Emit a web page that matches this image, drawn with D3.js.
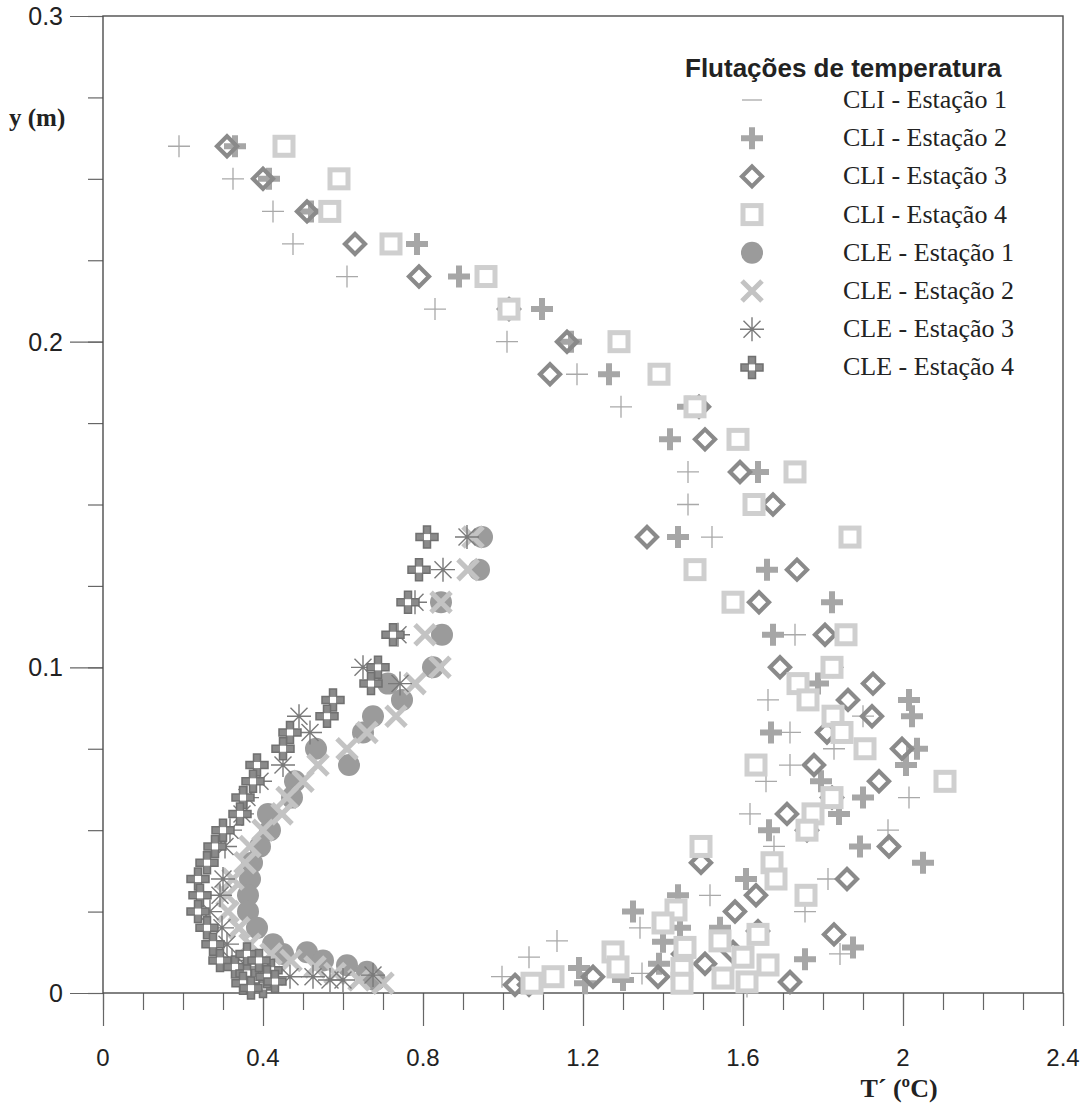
<!DOCTYPE html>
<html><head><meta charset="utf-8">
<script src="https://cdn.jsdelivr.net/npm/d3@7"></script>
<style>body{margin:0;background:#fff}</style>
</head><body>
<svg id="chart" width="1092" height="1107"></svg>
<script>
// Axis ticks and labels
const xTicks = [0, 0.4, 0.8, 1.2, 1.6, 2, 2.4];
const xTickLabels = ["0", "0.4", "0.8", "1.2", "1.6", "2", "2.4"];
const yTicks = [0, 0.1, 0.2, 0.3];
const yTickLabels = ["0", "0.1", "0.2", "0.3"];
const xMinorTicks = [0,0.1,0.2,0.3,0.4,0.5,0.6,0.7,0.8,0.9,1.0,1.1,1.2,1.3,1.4,1.5,1.6,1.7,1.8,1.9,2.0,2.1,2.2,2.3,2.4];
const yMinorTicks = [0,0.025,0.05,0.075,0.1,0.125,0.15,0.175,0.2,0.225,0.25,0.275,0.3];

const legendTitle = "Flutações de temperatura";
const seriesNames = ["CLI - Estação 1","CLI - Estação 2","CLI - Estação 3","CLI - Estação 4",
                     "CLE - Estação 1","CLE - Estação 2","CLE - Estação 3","CLE - Estação 4"];

// [T' (ºC), y (m)] pairs per series
const cli1 = [[0.19,0.26],[0.325,0.25],[0.425,0.24],[0.475,0.23],[0.61,0.22],[0.83,0.21],[1.01,0.2],
  [1.185,0.19],[1.295,0.18],[1.4625,0.16],[1.4625,0.15],[1.5225,0.14],[1.73,0.11],[1.825,0.1],
  [1.6625,0.09],[1.9,0.085],[1.7175,0.08],[1.8275,0.075],[1.7175,0.07],[1.6575,0.065],[2.015,0.06],
  [1.6175,0.055],[1.9625,0.05],[1.6775,0.045],[1.6725,0.04],[1.8125,0.035],[1.5175,0.03],[1.755,0.025],
  [1.3425,0.02],[1.135,0.016],[1.8425,0.012],[1.065,0.011],[1.3475,0.006],[0.9975,0.005],[1.61,0.002]];
const cli2 = [[0.33,0.26],[0.415,0.25],[0.52,0.24],[0.785,0.23],[0.89,0.22],[1.0975,0.21],[1.17,0.2],
  [1.265,0.19],[1.4625,0.18],[1.4175,0.17],[1.6375,0.16],[1.4375,0.14],[1.66,0.13],[1.8225,0.12],
  [1.675,0.11],[1.7875,0.095],[2.015,0.09],[2.0225,0.085],[1.67,0.08],[2.035,0.075],[2.0075,0.07],
  [1.795,0.065],[1.9,0.06],[1.84,0.055],[1.665,0.05],[1.8925,0.045],[2.05,0.04],[1.6075,0.035],
  [1.4375,0.03],[1.325,0.025],[1.4425,0.02],[1.5425,0.02],[1.4,0.0157],[1.875,0.014],[1.755,0.0104],
  [1.39,0.009],[1.19,0.0077],[1.3,0.004],[1.205,0.003]];
const cli3 = [[0.31,0.26],[0.40,0.25],[0.51,0.24],[0.63,0.23],[0.79,0.22],[1.015,0.21],[1.16,0.2],
  [1.1175,0.19],[1.49,0.18],[1.505,0.17],[1.5925,0.16],[1.675,0.15],[1.36,0.14],[1.735,0.13],[1.64,0.12],
  [1.805,0.11],[1.6925,0.1],[1.925,0.095],[1.8625,0.09],[1.9225,0.085],[1.81,0.08],[1.9975,0.075],
  [1.7775,0.07],[1.94,0.065],[1.8225,0.06],[1.71,0.055],[1.76,0.05],[1.965,0.045],[1.495,0.04],
  [1.86,0.035],[1.6325,0.03],[1.58,0.025],[1.6375,0.019],[1.8275,0.018],[1.575,0.0126],[1.45,0.012],
  [1.505,0.009],[1.225,0.005],[1.3875,0.005],[1.03,0.0025],[1.065,0.0025],[1.7175,0.0034]];
const cli4 = [[0.4525,0.26],[0.59,0.25],[0.567,0.24],[0.72,0.23],[0.9575,0.22],[1.015,0.21],[1.29,0.2],
  [1.39,0.19],[1.48,0.18],[1.5875,0.17],[1.73,0.16],[1.6275,0.15],[1.8675,0.14],[1.48,0.13],[1.575,0.12],
  [1.8575,0.11],[1.8225,0.1],[1.7375,0.095],[1.7625,0.09],[1.825,0.085],[1.8475,0.08],[1.905,0.075],
  [1.6325,0.07],[2.105,0.065],[1.8225,0.06],[1.775,0.055],[1.76,0.05],[1.495,0.045],[1.6725,0.04],
  [1.6825,0.035],[1.7575,0.03],[1.4325,0.0255],[1.4,0.0215],[1.5425,0.016],[1.6375,0.018],[1.455,0.014],
  [1.275,0.0126],[1.2875,0.008],[1.4475,0.0075],[1.4475,0.003],[1.55,0.0046],[1.61,0.0034],[1.6625,0.0086],
  [1.6,0.011],[1.125,0.005],[1.0725,0.003]];
const cle1 = [[0.9475,0.14],[0.94,0.13],[0.845,0.12],[0.8475,0.11],[0.825,0.1],[0.7125,0.095],[0.7475,0.09],
  [0.675,0.085],[0.65,0.08],[0.5325,0.075],[0.615,0.07],[0.48,0.065],[0.4725,0.06],[0.4125,0.055],
  [0.4175,0.05],[0.3925,0.045],[0.3725,0.04],[0.3675,0.035],[0.3625,0.03],[0.3625,0.025],[0.385,0.02],
  [0.425,0.015],[0.45,0.012],[0.51,0.0125],[0.55,0.01],[0.61,0.0085],[0.66,0.0065],[0.68,0.004]];
const cle2 = [[0.925,0.14],[0.9125,0.13],[0.845,0.12],[0.805,0.11],[0.8425,0.1],[0.78,0.095],[0.7325,0.085],
  [0.66,0.08],[0.61,0.075],[0.5375,0.07],[0.5,0.065],[0.46,0.06],[0.4475,0.055],[0.4,0.05],[0.3675,0.045],
  [0.355,0.04],[0.325,0.035],[0.31,0.03],[0.3125,0.025],[0.34,0.02],[0.3675,0.015],[0.42,0.012],
  [0.47,0.01],[0.53,0.008],[0.58,0.006],[0.64,0.004],[0.7,0.003]];
const cle3 = [[0.91,0.14],[0.85,0.13],[0.78,0.12],[0.7375,0.11],[0.65,0.1],[0.7425,0.095],[0.49,0.085],
  [0.5175,0.08],[0.45,0.07],[0.3925,0.065],[0.36,0.06],[0.3475,0.055],[0.3175,0.05],[0.305,0.045],
  [0.3,0.035],[0.2925,0.03],[0.2675,0.025],[0.2975,0.02],[0.31,0.015],[0.3225,0.01],[0.36,0.008],
  [0.4675,0.005],[0.525,0.005],[0.5675,0.004],[0.6,0.004],[0.675,0.0055]];
const cle4 = [[0.81,0.14],[0.79,0.13],[0.7625,0.12],[0.725,0.11],[0.6875,0.1],[0.67,0.095],[0.575,0.09],
  [0.56,0.085],[0.4675,0.08],[0.45,0.075],[0.385,0.07],[0.375,0.065],[0.35,0.06],[0.3425,0.055],
  [0.3,0.05],[0.28,0.045],[0.26,0.04],[0.2375,0.035],[0.2425,0.03],[0.2375,0.025],[0.26,0.02],
  [0.275,0.015],[0.2925,0.01],[0.33,0.008],[0.36,0.006],[0.38,0.004],[0.4,0.002],[0.35,0.003],[0.42,0.007],
  [0.36,0.012],[0.39,0.01],[0.41,0.005],[0.37,0.0015],[0.43,0.0035]];

const svg = d3.select("#chart");
const x = d3.scaleLinear().domain([0, 2.4]).range([103, 1063]);
const y = d3.scaleLinear().domain([0, 0.3]).range([993, 16]);

const axisCol = "#4d4d4d";

// minor and major ticks
const gx = svg.append("g").attr("transform", `translate(0,${y(0)})`);
gx.call(d3.axisBottom(x).tickValues(xMinorTicks).tickSize(17).tickFormat(""));
gx.call(g => g.select(".domain").remove());
const gx2 = svg.append("g").attr("transform", `translate(0,${y(0)})`);
gx2.call(d3.axisBottom(x).tickValues(xTicks).tickSize(33).tickFormat(""));
gx2.call(g => g.select(".domain").remove());

const gy = svg.append("g").attr("transform", `translate(${x(0)},0)`);
gy.call(d3.axisLeft(y).tickValues(yMinorTicks).tickSize(15).tickFormat(""));
gy.call(g => g.select(".domain").remove());
const gy2 = svg.append("g").attr("transform", `translate(${x(0)},0)`);
gy2.call(d3.axisLeft(y).tickValues(yTicks).tickSize(33).tickFormat(""));
gy2.call(g => g.select(".domain").remove());
svg.selectAll(".tick line").attr("stroke", "#666").attr("stroke-width", 1.2);

// plot frame
svg.append("rect").attr("x", x(0)).attr("y", y(0.3)).attr("width", x(2.4) - x(0)).attr("height", y(0) - y(0.3))
  .attr("fill", "none").attr("stroke", axisCol).attr("stroke-width", 1.4);

// tick labels
svg.append("g").selectAll("text").data(xTicks).join("text")
  .attr("x", d => x(d)).attr("y", 1066).attr("text-anchor", "middle")
  .attr("font-family", "Liberation Sans, Arial, sans-serif").attr("font-size", 24).attr("fill", "#222")
  .text((d, i) => xTickLabels[i]);
svg.append("g").selectAll("text").data(yTicks).join("text")
  .attr("x", 63).attr("y", d => y(d) + 9).attr("text-anchor", "end")
  .attr("font-family", "Liberation Sans, Arial, sans-serif").attr("font-size", 25).attr("fill", "#222")
  .text((d, i) => yTickLabels[i]);

// axis titles
svg.append("text").attr("x", 899).attr("y", 1097).attr("text-anchor", "middle")
  .attr("font-family", "Liberation Serif, Times New Roman, serif").attr("font-weight", "bold")
  .attr("font-size", 26).attr("fill", "#222").text("T\u00B4 (\u00BAC)");
svg.append("text").attr("x", 9).attr("y", 126)
  .attr("font-family", "Liberation Serif, Times New Roman, serif").attr("font-weight", "bold")
  .attr("font-size", 25).attr("fill", "#222").text("y (m)");

// marker drawing
const styles = [
  {type: "thinPlus", color: "#a9a9a9"},
  {type: "thickPlus", color: "#a6a6a6"},
  {type: "diamond", color: "#8a8a8a"},
  {type: "square", color: "#cfcfcf"},
  {type: "circle", color: "#9b9b9b"},
  {type: "cross", color: "#c3c3c3"},
  {type: "asterisk", color: "#7a7a7a"},
  {type: "pattern", color: "#707070"}
];
function drawMarker(g, type, color) {
  switch (type) {
    case "thinPlus":
      g.append("path").attr("d", "M-11,0H11M0,-11V11").attr("stroke", color).attr("stroke-width", 1.3).attr("fill", "none"); break;
    case "thickPlus":
      g.append("path").attr("d", "M-11,0H11M0,-11V11").attr("stroke", color).attr("stroke-width", 6).attr("fill", "none"); break;
    case "diamond":
      g.append("path").attr("d", "M0,-10L10,0L0,10L-10,0Z").attr("stroke", color).attr("stroke-width", 4.2).attr("fill", "none"); break;
    case "square":
      g.append("rect").attr("x", -9).attr("y", -9).attr("width", 18).attr("height", 18)
        .attr("stroke", color).attr("stroke-width", 5).attr("fill", "#fff"); break;
    case "circle":
      g.append("circle").attr("r", 11).attr("fill", color); break;
    case "cross":
      g.append("path").attr("d", "M-10,-10L10,10M-10,10L10,-10").attr("stroke", color).attr("stroke-width", 5).attr("fill", "none"); break;
    case "asterisk":
      g.append("path").attr("d", "M-12,0H12M0,-12V12M-8.5,-8.5L8.5,8.5M-8.5,8.5L8.5,-8.5")
        .attr("stroke", color).attr("stroke-width", 1.4).attr("fill", "none"); break;
    case "pattern":
      g.append("path").attr("d", "M-3.5,-11H3.5V-3.5H11V3.5H3.5V11H-3.5V3.5H-11V-3.5H-3.5Z")
        .attr("fill", "#8a8a8a").attr("stroke", color).attr("stroke-width", 1.5);
      g.append("rect").attr("x", -3).attr("y", -3).attr("width", 6).attr("height", 6).attr("fill", "#fff");
      break;
  }
}

const allSeries = [cli1, cli2, cli3, cli4, cle1, cle2, cle3, cle4];
allSeries.forEach((data, i) => {
  const st = styles[i];
  svg.append("g").attr("class", "series-" + i).selectAll("g").data(data).join("g")
    .attr("transform", d => `translate(${x(d[0])},${y(d[1])})`)
    .each(function () { drawMarker(d3.select(this), st.type, st.color); });
});

// legend
const lg = svg.append("g");
lg.append("text").attr("x", 685).attr("y", 77)
  .attr("font-family", "Liberation Sans, Arial, sans-serif").attr("font-weight", "bold")
  .attr("font-size", 26).attr("fill", "#222").text(legendTitle);
seriesNames.forEach((name, i) => {
  const cy = 100 + i * 38.2;
  const mg = lg.append("g").attr("transform", `translate(752,${cy})`);
  if (styles[i].type === "thinPlus") {
    mg.append("path").attr("d", "M-10,0H10").attr("stroke", styles[i].color).attr("stroke-width", 1.3);
  } else {
    drawMarker(mg, styles[i].type, styles[i].color);
  }
  lg.append("text").attr("x", 843).attr("y", cy + 8)
    .attr("font-family", "Liberation Serif, Times New Roman, serif")
    .attr("font-size", 26).attr("fill", "#222").text(name);
});
</script>
</body></html>
